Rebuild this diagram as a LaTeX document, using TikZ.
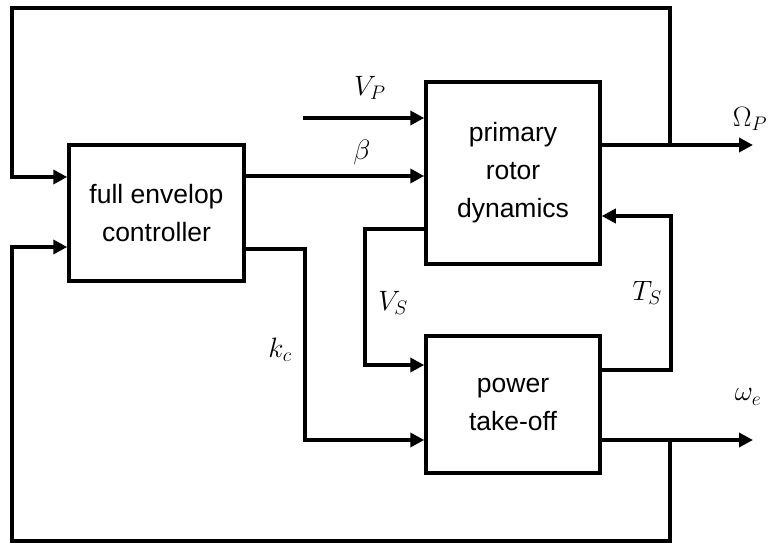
\documentclass[tikz,border=0pt]{standalone}
\usepackage{fix-cm}
\usepackage{fontspec}
\setmainfont{Liberation Sans}
\usetikzlibrary{arrows.meta,calc}
\tikzset{
  blk/.style={draw, line width=3.5pt, inner sep=0pt, align=center,
    font=\fontsize{26.5}{38}\selectfont},
  wire/.style={line width=3.5pt},
  arr/.style={wire, -{Triangle[length=14pt,width=14pt]}},
  lbl/.style={font=\fontsize{28}{32}\selectfont, inner sep=0pt}
}
\begin{document}
\begin{tikzpicture}[x=1pt,y=-1pt]
\useasboundingbox (0,0) rectangle (768,543);
% blocks
\node[blk, minimum width=175pt, minimum height=136pt] (ctrl) at (156.5,213) {full envelop\\controller};
\node[blk, minimum width=174pt, minimum height=182pt] (rotor) at (513,173) {primary\\rotor\\dynamics};
\node[blk, minimum width=174pt, minimum height=137pt] (pto) at (513,404.5) {power\\take-off};
% helper coordinates
\coordinate (vpin) at (303,118);
\coordinate (yb) at (0,176);
\coordinate (yfb) at (0,177);
\coordinate (omj) at (670,145);
\coordinate (omout) at (753,145);
\coordinate (tl) at (12,8);
\coordinate (tr) at (670,8);
\coordinate (bl) at (12,541);
\coordinate (br) at (670,541);
\coordinate (yk) at (0,249);
\coordinate (yk2) at (0,440);
\coordinate (xk) at (305,0);
\coordinate (eout) at (753,440);
\coordinate (ej) at (670,440);
\coordinate (ysv) at (0,229);
\coordinate (xsv) at (365,0);
\coordinate (ysv2) at (0,365);
\coordinate (yts) at (0,370);
\coordinate (xts) at (671,0);
\coordinate (yts2) at (0,216);
\coordinate (yfb2) at (0,247);
% connectors
\draw[arr] (vpin) -- (vpin -| rotor.west);
\draw[arr] (ctrl.east |- yb) -- (rotor.west |- yb);
\draw[arr] (rotor.east |- omj) -- (omout);
\draw[arr] (omj) -- (tr) -- (tl) -- (tl |- yfb) -- (ctrl.west |- yfb);
\draw[arr] (pto.east |- ej) -- (eout);
\draw[arr] (ej) -- (br) -- (bl) -- (bl |- yfb2) -- (ctrl.west |- yfb2);
\draw[arr] (ctrl.east |- yk) -- (xk |- yk) -- (xk |- yk2) -- (pto.west |- yk2);
\draw[arr] (rotor.west |- ysv) -- (xsv |- ysv) -- (xsv |- ysv2) -- (pto.west |- ysv2);
\draw[arr] (pto.east |- yts) -- (xts |- yts) -- (xts |- yts2) -- (rotor.east |- yts2);
% labels
\node[lbl] (lvp) at (370,88) {$V_P$};
\node[lbl] (lb) at (362,152) {$\beta$};
\node[lbl] (lom) at (750,119) {$\Omega_P$};
\node[lbl] (lts) at (647,293) {$T_S$};
\node[lbl] (lvs) at (393,303) {$V_S$};
\node[lbl] (lkc) at (280,350) {$k_c$};
\node[lbl] (lwe) at (748,397) {$\omega_e$};
\end{tikzpicture}
\end{document}
